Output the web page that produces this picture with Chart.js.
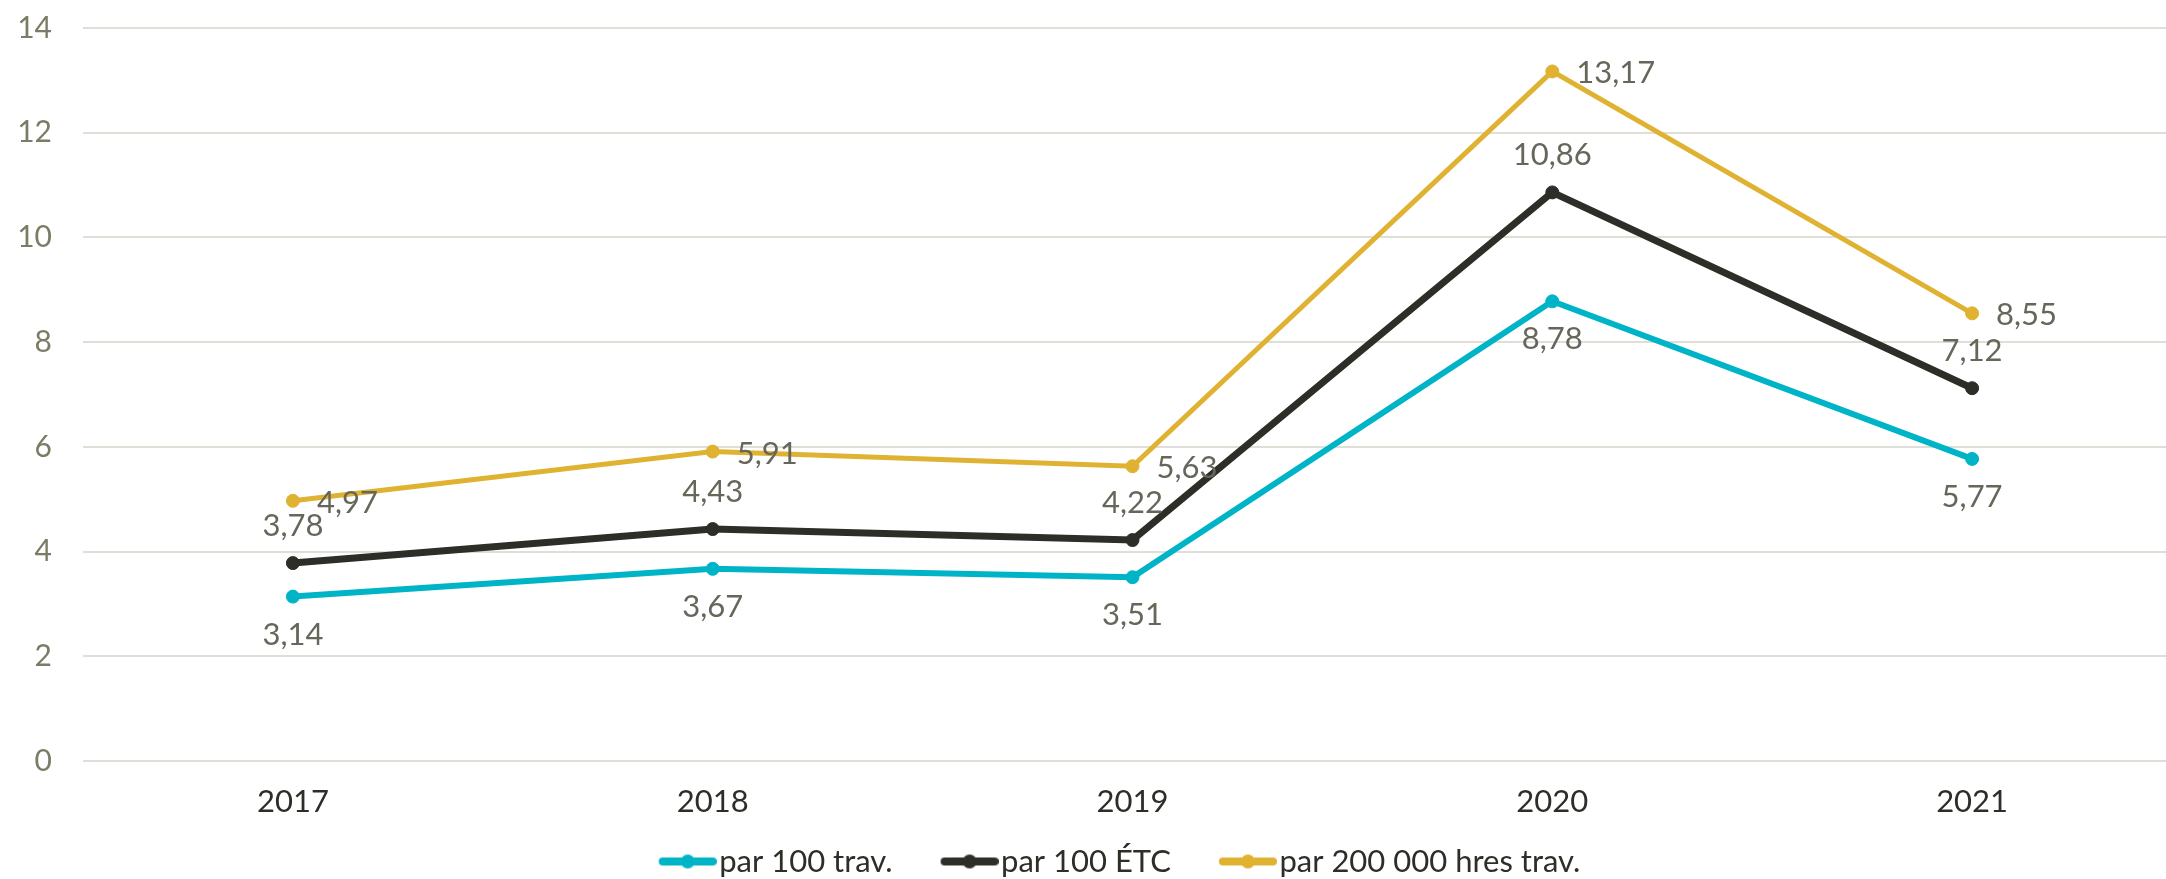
<!DOCTYPE html>
<html lang="fr">
<head>
<meta charset="utf-8">
<script src="https://cdn.jsdelivr.net/npm/chart.js@4.4.1/dist/chart.umd.min.js"></script>
<style>
    html, body { margin: 0; padding: 0; background: #fff; overflow: hidden; }
    #wrap { position: relative; width: 2190px; height: 879px; }
</style>
</head>
<body>
<div id="wrap"><canvas id="chart"></canvas></div>
<script>
const years = ['2017', '2018', '2019', '2020', '2021'];
const par100Trav = [3.14, 3.67, 3.51, 8.78, 5.77];
const par100Etc = [3.78, 4.43, 4.22, 10.86, 7.12];
const par200kHres = [4.97, 5.91, 5.63, 13.17, 8.55];
const seriesNames = ['par 100 trav.', 'par 100 ÉTC', 'par 200 000 hres trav.'];

const CYAN = '#00b4c8';
const DARK = '#2e2e28';
const GOLD = '#e0b232';
const FONT = 'Lato';

// legend symbol: line with a dot, drawn to the right of a transparent gap
function legendSymbol(color) {
    const c = document.createElement('canvas');
    c.width = 109;
    c.height = 18;
    const g = c.getContext('2d');
    g.strokeStyle = color;
    g.lineWidth = 8;
    g.lineCap = 'round';
    g.beginPath();
    g.moveTo(55, 9);
    g.lineTo(105, 9);
    g.stroke();
    g.fillStyle = color;
    g.beginPath();
    g.arc(80, 9, 7, 0, Math.PI * 2);
    g.fill();
    return c;
}

const fmt = (v) => v.toFixed(2).replace('.', ',');

const valueLabels = {
    id: 'valueLabels',
    afterDatasetsDraw(chart) {
        const { ctx } = chart;
        ctx.save();
        ctx.font = `31px ${FONT}`;
        ctx.fillStyle = '#66665a';
        ctx.textBaseline = 'middle';
        chart.data.datasets.forEach((ds, i) => {
            chart.getDatasetMeta(i).data.forEach((pt, j) => {
                const text = fmt(ds.data[j]);
                if (ds.labelPos === 'right') {
                    ctx.textAlign = 'left';
                    ctx.fillText(text, pt.x + 24, pt.y + 2);
                } else {
                    ctx.textAlign = 'center';
                    ctx.fillText(text, pt.x, pt.y + (ds.labelPos === 'below' ? 38 : -37));
                }
            });
        });
        ctx.restore();
    },
};

function line(label, data, color, width, labelPos) {
    return {
        label,
        data,
        labelPos,
        borderColor: color,
        backgroundColor: color,
        borderWidth: width,
        pointRadius: 6.5,
        pointBorderWidth: 1,
        pointBackgroundColor: color,
        pointBorderColor: color,
        tension: 0,
    };
}

const datasets = [
    line(seriesNames[0], par100Trav, CYAN, 6, 'below'),
    line(seriesNames[1], par100Etc, DARK, 7, 'above'),
    line(seriesNames[2], par200kHres, GOLD, 5, 'right'),
];

new Chart(document.getElementById('chart'), {
    type: 'line',
    plugins: [valueLabels],
    data: { labels: years, datasets },
    options: {
        responsive: true,
        maintainAspectRatio: false,
        animation: false,
        layout: { padding: { top: 0, left: 19, right: 8, bottom: -8 } },
        plugins: {
            tooltip: { enabled: false },
            legend: {
                position: 'bottom',
                labels: {
                    usePointStyle: true,
                    pointStyleWidth: 83,
                    boxHeight: 18,
                    padding: 10,
                    color: DARK,
                    font: { family: FONT, size: 31 },
                    generateLabels: (chart) => chart.data.datasets.map((ds, i) => ({
                        text: ds.label,
                        pointStyle: legendSymbol(ds.borderColor),
                        fillStyle: ds.borderColor,
                        strokeStyle: ds.borderColor,
                        fontColor: DARK,
                        lineWidth: 0,
                        hidden: false,
                        datasetIndex: i,
                    })),
                },
            },
        },
        scales: {
            x: {
                offset: true,
                grid: { display: false, drawTicks: false },
                border: { display: false },
                ticks: { color: DARK, font: { family: FONT, size: 31 }, padding: 22 },
                afterFit: (axis) => { axis.height = 75; },
            },
            y: {
                min: 0,
                max: 14,
                grid: { color: '#dfdfd8', lineWidth: 2, drawTicks: false },
                border: { display: false },
                ticks: { stepSize: 2, color: '#7c7c66', font: { family: FONT, size: 30 }, padding: 31 },
                afterFit: (axis) => {
                    axis.width = 64;
                    axis.paddingTop = 28;
                    axis.paddingBottom = 0;
                },
            },
        },
    },
});
</script>
</body>
</html>
